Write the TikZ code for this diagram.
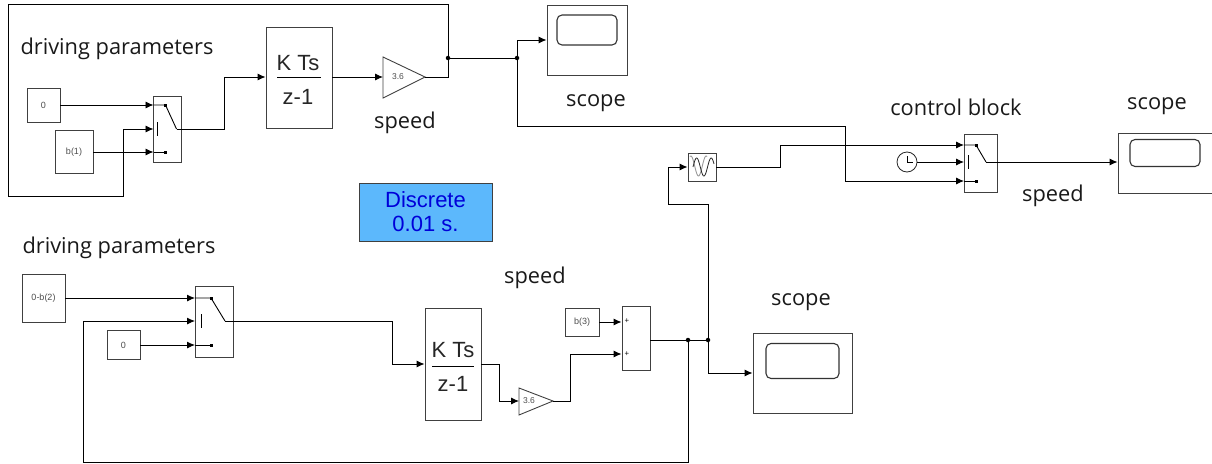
\documentclass[tikz,border=0pt]{standalone}
\usepackage{fontspec}
\setmainfont{Open Sans}
\newfontfamily\blockfont{Liberation Sans}
\usetikzlibrary{arrows.meta}
\definecolor{discfill}{HTML}{5CB8FC}
\tikzset{
block/.style={draw=black!75,line width=0.9pt,inner sep=0pt,font=\blockfont\fontsize{9}{10}\selectfont,text=black!70},
gaintxt/.style={inner sep=0pt,font=\blockfont\fontsize{8.5}{10}\selectfont,text=black!70},
conn/.style={line width=0.9pt,-{Latex[length=8pt,width=7pt]}},
wire/.style={line width=0.9pt},
junc/.style={circle,fill=black,inner sep=0pt,minimum size=4.5pt},
lbl/.style={font=\fontsize{21.8}{24}\selectfont,text=black!90},
frac/.style={font=\blockfont\fontsize{22}{24}\selectfont,text=black!85},
screen/.style={draw=black!80,line width=1.1pt,rounded corners=5pt},
}
\begin{document}
\begin{tikzpicture}[x=1pt,y=-1pt]
\useasboundingbox (0,0) rectangle (1212,463);

\node[lbl] (drva) at (117,49) {driving parameters};
\node[lbl] (drvb) at (119,248) {driving parameters};
\node[lbl] (spda) at (405,123) {speed};
\node[lbl] (spdb) at (1053,196) {speed};
\node[lbl] (spdc) at (535,278) {speed};
\node[lbl] (scpa) at (596,103) {scope};
\node[lbl] (scpb) at (1157,106) {scope};
\node[lbl] (scpc) at (801,302) {scope};
\node[lbl] (ctrl) at (956,107) {control block};

\node[block,minimum width=33pt,minimum height=34pt] (cza) at (43.5,105) {0};
\node[block,minimum width=38pt,minimum height=43pt] (bone) at (74,152) {b(1)};
\node[block,minimum width=28.5pt,minimum height=66pt] (swa) at (167.5,129) {};
\node[block,minimum width=66pt,minimum height=101pt] (inta) at (299,77.5) {};
\draw[block] (383,57) -- (383,98) -- (425,77) -- cycle;
\coordinate (gaina) at (383,77);
\coordinate (gaina-o) at (425,77);
\node[gaintxt] (gaina-t) at (398,77) {3.6};
\node[block,minimum width=80pt,minimum height=70pt] (scopea) at (587,40) {};
\node[screen,minimum width=60pt,minimum height=30pt] (scra) at (587,30) {};

\node[block,minimum width=133pt,minimum height=58pt,fill=discfill] (disc) at (425.5,212) {};
\node[font=\blockfont\fontsize{22}{24}\selectfont,text=blue!85!black,align=center] (disct) at (425.5,212) {Discrete\\0.01 s.};

\node[block,minimum width=28pt,minimum height=28pt] (sine) at (702,167) {};
\node[draw=black!85,circle,line width=0.8pt,minimum size=20pt,inner sep=0pt] (clk) at (907,162) {};
\node[block,minimum width=33pt,minimum height=58pt] (swb) at (980.5,163) {};
\node[block,minimum width=94pt,minimum height=60pt] (scopeb) at (1165,163) {};
\node[screen,minimum width=70pt,minimum height=27pt] (scrb) at (1165,153) {};

\node[block,minimum width=43pt,minimum height=48pt] (ctwo) at (43.5,298) {0-b(2)};
\node[block,minimum width=33pt,minimum height=29pt] (czb) at (123.5,345) {0};
\node[block,minimum width=38pt,minimum height=71pt] (swc) at (214,321.5) {};
\node[block,minimum width=56pt,minimum height=112pt] (intb) at (453,364) {};
\draw[block] (519,388) -- (519,415) -- (553,401) -- cycle;
\coordinate (gainb) at (519,401);
\coordinate (gainb-o) at (553,401);
\node[gaintxt] (gainb-t) at (529,401) {3.6};
\node[block,minimum width=34pt,minimum height=28pt] (bthree) at (582,322) {b(3)};
\node[block,minimum width=28pt,minimum height=64pt] (sum) at (636,338) {};
\node[block,minimum width=99pt,minimum height=80pt] (scopec) at (802.5,373) {};
\node[screen,minimum width=73pt,minimum height=35pt] (scrc) at (802.5,361) {};

% fractions
\node[frac] (inta-n) at (298,63) {K Ts};
\node[frac] (inta-d) at (298,97) {z-1};
\draw[wire] (277,77) -- (321,77);
\node[frac] (intb-n) at (453,350) {K Ts};
\node[frac] (intb-d) at (453,384) {z-1};
\draw[wire] (432,366) -- (474,366);

% switch ports
\foreach \sw/\xa/\ya/\yb/\yc/\dx/\dp/\db in {swa/153.5/105/129/152/12/23/4,swb/964/145/162/181/12/22/4,swc/195/298/321/345/16/30/6}{
\coordinate (\sw-a) at (\xa,\ya);
\coordinate (\sw-b) at (\xa,\yb);
\coordinate (\sw-c) at (\xa,\yc);
\coordinate (\sw-o) at (\xa+\dp,\yb);
\draw[wire] (\xa,\ya) -- ++(\dx,0) -- (\xa+\dp,\yb);
\draw[wire] (\xa,\yc) -- ++(\dx,0);
\draw[wire] (\xa+\db,\yb-7) -- (\xa+\db,\yb+7);
\fill (\xa+\dx-1.5,\ya-1.5) rectangle ++(3,3);
\fill (\xa+\dx-1.5,\yc-1.5) rectangle ++(3,3);
}

% sum signs
\node[font=\fontsize{8}{8}\selectfont] (pla) at (627,321) {+};
\node[font=\fontsize{8}{8}\selectfont] (plb) at (627,354) {+};

% sine and clock
\draw[black!40,line width=0.9pt,domain=0:400,samples=50,smooth] plot ({690+\x/400*17},{166-10*sin(\x+70)});
\draw[black!85,line width=0.8pt,domain=0:520,samples=50,smooth] plot ({693+\x/520*21},{167-9*sin(\x)});
\draw[line width=0.8pt] (clk.center) -- ++(0,-6) (clk.center) -- ++(6,0);

% upper wires
\coordinate (ja) at (448,58);
\coordinate (jb) at (517,58);
\node[junc] (nja) at (ja) {};
\node[junc] (njb) at (jb) {};
\draw[conn] (cza.east) -- (swa-a);
\draw[conn] (bone.east) -- (swa-c);
\draw[conn] (swa-o) -- (224,129) -- (224,77) -- (inta.west |- 0,77);
\draw[conn] (inta.east |- 0,77) -- (gaina);
\draw[conn] (gaina-o) -- (448,77) -- (448,4) -- (8,4) -- (8,196) -- (123,196) -- (123,129) -- (swa-b);
\draw[wire] (nja) -- (njb);
\draw[conn] (njb) -- (517,40) -- (scopea.west);
\draw[conn] (njb) -- (517,126) -- (845,126) -- (845,181) -- (swb-c);
\draw[conn] (sine.east) -- (780,167) -- (780,145) -- (swb-a);
\draw[conn] (clk.east) -- (swb-b);
\draw[conn] (swb-o) -- (scopeb.west |- 0,162);

% lower wires
\coordinate (jc) at (688,340);
\coordinate (jd) at (708,340);
\node[junc] (njc) at (jc) {};
\node[junc] (njd) at (jd) {};
\draw[conn] (ctwo.east) -- (swc-a);
\draw[conn] (czb.east) -- (swc-c);
\draw[conn] (njc) -- (688,462) -- (83,462) -- (83,321) -- (swc-b);
\draw[conn] (swc-o) -- (392,321) -- (392,364) -- (intb.west);
\draw[conn] (intb.east) -- (499,364) -- (499,401) -- (gainb);
\draw[conn] (gainb-o) -- (570,401) -- (570,354) -- (sum.west |- 0,354);
\draw[conn] (bthree.east) -- (sum.west |- 0,322);
\draw[wire] (sum.east |- 0,340) -- (njc) -- (njd);
\draw[conn] (njd) -- (708,373) -- (scopec.west);
\draw[conn] (njd) -- (708,204) -- (668,204) -- (668,167) -- (sine.west);
\end{tikzpicture}
\end{document}
